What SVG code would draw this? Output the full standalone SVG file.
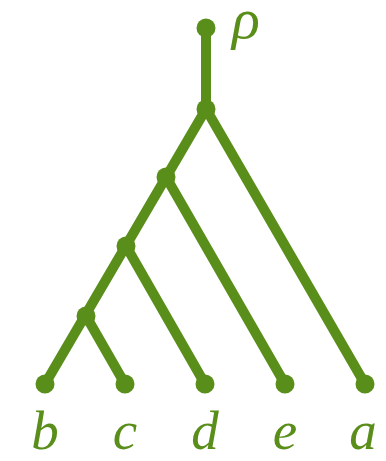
<svg xmlns="http://www.w3.org/2000/svg" width="386" height="461" viewBox="0 0 386 461">
<style>
.e{stroke:#5a8e1a;stroke-width:10;stroke-linecap:round;fill:none}
.n{fill:#5a8e1a}
.t{fill:#5a8e1a;font-family:"Liberation Serif",serif;font-style:italic;font-size:55px;text-anchor:middle}
</style>
<rect width="386" height="461" fill="#fff"/>
<g id="edges">
<line class="e" x1="206" y1="28" x2="206" y2="109"/>
<line class="e" x1="206" y1="109" x2="45" y2="384"/>
<line class="e" x1="206" y1="109" x2="365" y2="384"/>
<line class="e" x1="166" y1="177" x2="285" y2="384"/>
<line class="e" x1="126" y1="246" x2="205" y2="384"/>
<line class="e" x1="86" y1="316" x2="125" y2="384"/>
</g>
<g id="root"><circle class="n" cx="206" cy="28" r="9.5"/><text class="t" x="246" y="38" style="font-size:58px">ρ</text></g>
<g id="n1"><circle class="n" cx="206" cy="109" r="9.5"/></g>
<g id="n2"><circle class="n" cx="166" cy="177" r="9.5"/></g>
<g id="n3"><circle class="n" cx="126" cy="246" r="9.5"/></g>
<g id="n4"><circle class="n" cx="86" cy="316" r="9.5"/></g>
<g id="b"><circle class="n" cx="45" cy="384" r="9.5"/><text class="t" x="45" y="449">b</text></g>
<g id="c"><circle class="n" cx="125" cy="384" r="9.5"/><text class="t" x="125" y="449">c</text></g>
<g id="d"><circle class="n" cx="205" cy="384" r="9.5"/><text class="t" x="205" y="449">d</text></g>
<g id="e"><circle class="n" cx="285" cy="384" r="9.5"/><text class="t" x="285" y="449">e</text></g>
<g id="a"><circle class="n" cx="365" cy="384" r="9.5"/><text class="t" x="363" y="449">a</text></g>
</svg>
